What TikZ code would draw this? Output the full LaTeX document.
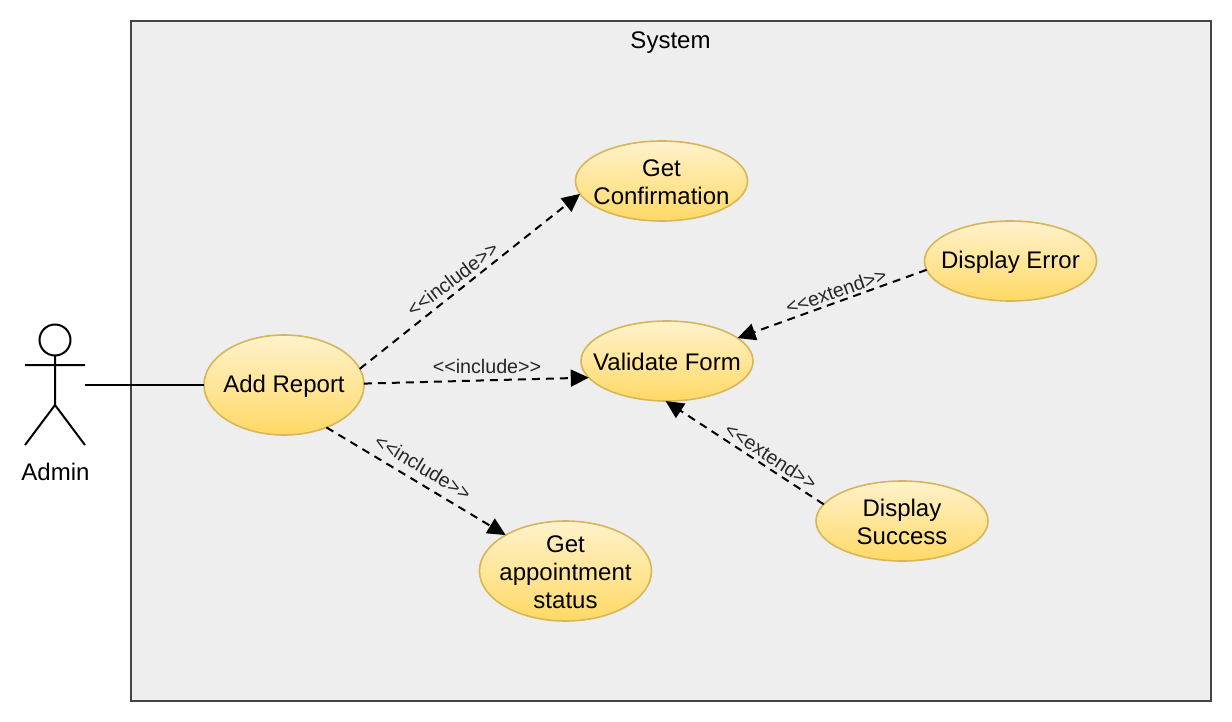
\documentclass[tikz,border=0pt]{standalone}
\usepackage{fontspec}
\setmainfont{Liberation Sans}
\usetikzlibrary{arrows.meta,shapes.geometric}
\definecolor{uctop}{HTML}{FFF2CC}
\definecolor{ucbottom}{HTML}{FFD966}
\definecolor{ucborder}{HTML}{D6B656}
\definecolor{sysfill}{HTML}{EEEEEE}
\definecolor{sysline}{HTML}{444444}
\tikzset{
  x=1pt,y=-1pt,
  usecase/.style n args={3}{ellipse,draw=ucborder,line width=1.6pt,top color=uctop,bottom color=ucbottom,
    minimum width=#1,minimum height=#2,inner sep=0pt,outer sep=0pt,
    label={[uctext]center:#3}},
  uctext/.style={align=center,font=\fontsize{24}{28}\selectfont,text=black,inner sep=0pt,yshift=-1.2pt},
  rel/.style={line width=2pt,dash pattern=on 8pt off 6pt,-{Triangle[length=18pt,width=17pt]}},
  stereo/.style={font=\fontsize{19.7}{22}\selectfont,text=black!85,inner sep=0pt},
  actorline/.style={line width=2pt,black},
}
\newcommand{\stl}{\mbox{<}\mbox{<}}
\newcommand{\stg}{\mbox{>}\mbox{>}}
\begin{document}
\begin{tikzpicture}
\useasboundingbox (0,0) rectangle (1232,722);
\node[draw=sysline,fill=sysfill,line width=2pt,outer sep=0pt,minimum width=1080pt,minimum height=680pt,inner sep=0pt,anchor=north west] (system) at (131,21) {};
\node[uctext] (systemlabel) at (670.5,41.5) {System};

\node[minimum width=60pt,minimum height=120pt,inner sep=0pt,outer sep=0pt] (actor) at (55,385) {};
\draw[actorline] (55,340) circle[radius=15.5pt];
\draw[actorline] (55,355.5) -- (55,405) (25,365) -- (85,365) (25,445) -- (55,405) -- (85,445);
\node[uctext] (adminlabel) at (55.5,470.5) {Admin};

\node[usecase={160pt}{100pt}{Add Report}] (add) at (284,385) {};
\node[usecase={172pt}{80pt}{Get\\Confirmation}] (conf) at (661.5,181) {};
\node[usecase={172pt}{80pt}{Validate Form}] (valid) at (667,361) {};
\node[usecase={172pt}{80pt}{Display Error}] (err) at (1010.5,261) {};
\node[usecase={172pt}{80pt}{Display\\Success}] (succ) at (902,521) {};
\node[usecase={172pt}{100pt}{Get\\appointment\\status}] (status) at (565.5,571) {};

\draw[line width=2pt] (actor.east) -- (add.west);
\draw[rel] (add.12.6) -- (conf.189.7);
\draw[rel] (add.1) -- (valid.192.4);
\draw[rel] (add.-45.7) -- (status.149);
\draw[rel] (err.186) -- (valid.18);
\draw[rel] (succ.168) -- (valid.268.6);

\node[stereo,rotate=37] (l1) at (452.5,279) {\stl include\stg};
\node[stereo] (l2) at (487,366) {\stl include\stg};
\node[stereo,rotate=-31] (l3) at (423,467) {\stl include\stg};
\node[stereo,rotate=19] (l4) at (836,291) {\stl extend\stg};
\node[stereo,rotate=-33] (l5) at (771,456) {\stl extend\stg};
\end{tikzpicture}
\end{document}
